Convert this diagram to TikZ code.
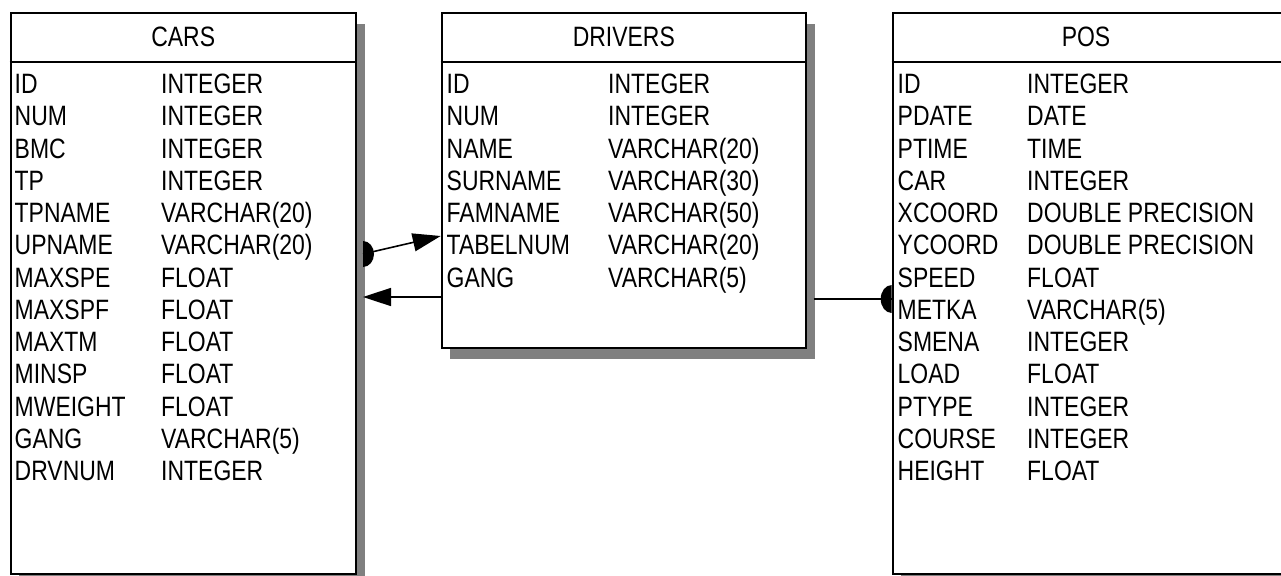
\documentclass[tikz,border=0pt]{standalone}
\usepackage{fontspec}
\setmainfont{Liberation Sans}[FakeStretch=0.82]
\usetikzlibrary{arrows.meta,shadows,calc}
\definecolor{shadowgray}{RGB}{128,128,128}
\begin{document}
\begin{tikzpicture}[x=1pt,y=-1pt,
  tbl/.style={draw=black,line width=2pt,fill=white,rectangle,inner sep=0pt,anchor=north west,
    drop shadow={shadow xshift=8.5pt,shadow yshift=-11pt,fill=shadowgray,opacity=1}},
  fld/.style={anchor=base west,inner sep=0pt,font=\fontsize{28}{32}\selectfont},
  ttl/.style={anchor=base,inner sep=0pt,font=\fontsize{28}{32}\selectfont},
  hdr/.style={line width=2pt},
  conn/.style={line width=1.6pt},
  tip/.style={-{Triangle[length=28pt,width=18pt]}}]
\clip (0,0) rectangle (1281,575);
\fill[white] (0,0) rectangle (1281,575);

% tables
\node[tbl,minimum width=345.5pt,minimum height=561pt] (cars) at (9.5,11.7) {};
\node[tbl,minimum width=364.3pt,minimum height=335.6pt] (drivers) at (440.7,11.7) {};
\node[tbl,minimum width=392pt,minimum height=561pt] (pos) at (891.7,11.7) {};

% header separators
\draw[hdr] ($(cars.north west)+(0,50)$) -- ($(cars.north east)+(0,50)$);
\draw[hdr] ($(drivers.north west)+(0,50)$) -- ($(drivers.north east)+(0,50)$);
\draw[hdr] ($(pos.north west)+(0,50)$) -- ($(pos.north east)+(0,50)$);

% titles
\node[ttl] (carsT) at ($(cars.north)+(0,34.5)$) {CARS};
\node[ttl] (driversT) at ($(drivers.north)+(0,34.5)$) {DRIVERS};
\node[ttl] (posT) at (1086,46.2) {POS};

% fields
\foreach \n/\t [count=\i from 0] in {ID/INTEGER,NUM/INTEGER,BMC/INTEGER,TP/INTEGER,
  TPNAME/VARCHAR(20),UPNAME/VARCHAR(20),MAXSPE/FLOAT,MAXSPF/FLOAT,MAXTM/FLOAT,
  MINSP/FLOAT,MWEIGHT/FLOAT,GANG/VARCHAR(5),DRVNUM/INTEGER}{
  \node[fld] (carsn\i) at (14.5,93.5+32.25*\i) {\n};
  \node[fld] (carst\i) at (161,93.5+32.25*\i) {\t};
}
\foreach \n/\t [count=\i from 0] in {ID/INTEGER,NUM/INTEGER,NAME/VARCHAR(20),
  SURNAME/VARCHAR(30),FAMNAME/VARCHAR(50),TABELNUM/VARCHAR(20),GANG/VARCHAR(5)}{
  \node[fld] (drvn\i) at (446.5,93.5+32.25*\i) {\n};
  \node[fld] (drvt\i) at (608,93.5+32.25*\i) {\t};
}
\foreach \n/\t [count=\i from 0] in {ID/INTEGER,PDATE/DATE,PTIME/TIME,CAR/INTEGER,
  XCOORD/DOUBLE PRECISION,YCOORD/DOUBLE PRECISION,SPEED/FLOAT,METKA/VARCHAR(5),
  SMENA/INTEGER,LOAD/FLOAT,PTYPE/INTEGER,COURSE/INTEGER,HEIGHT/FLOAT}{
  \node[fld] (posn\i) at (897.5,93.5+32.25*\i) {\n};
  \node[fld] (post\i) at (1027,93.5+32.25*\i) {\t};
}

% connectors
\coordinate (c1a) at (363,254);
\coordinate (c1b) at (440.7,236);
\coordinate (c2a) at (440.7,297);
\coordinate (c2b) at (363,297);
\coordinate (c3a) at (813.5,299);
\coordinate (c3b) at (891.7,299);

\fill ($(c1a)+(0,-13)$) arc[start angle=90,end angle=-90,x radius=11pt,y radius=13pt] -- cycle;
\draw[conn,tip] (c1a) -- (c1b);
\draw[conn,tip] (c2a) -- (c2b);
\draw[conn] (c3a) -- (c3b);
\fill ($(c3b)+(0,-14)$) arc[start angle=90,end angle=270,x radius=11pt,y radius=14pt] -- cycle;
\end{tikzpicture}
\end{document}
